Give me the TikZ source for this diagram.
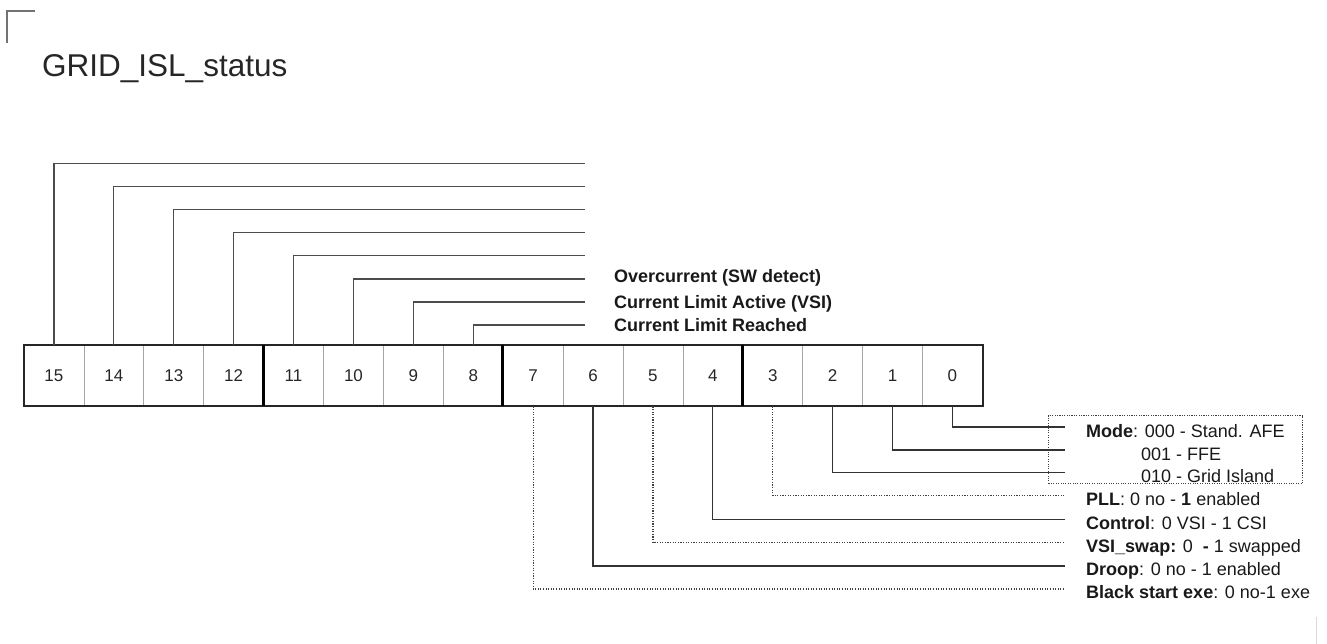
\documentclass[tikz,border=0pt]{standalone}
\usepackage{fontspec}
\setmainfont{Liberation Sans}
\begin{document}
\begin{tikzpicture}[x=1pt,y=-1pt,
  cell/.style={draw=black!35, line width=0.8pt, minimum width=59.9pt, minimum height=61pt, inner sep=0pt, font=\fontsize{17}{20}\selectfont, text=black!85},
  topline/.style={draw=black!70, line width=1.1pt},
  solidline/.style={draw=black!80, line width=1.2pt},
  dotline/.style={draw=black!75, line width=1.1pt, dash pattern=on 1.1pt off 1.5pt},
  lbl/.style={anchor=base west, inner sep=0pt, font=\fontsize{18}{20}\selectfont, text=black!90},
  lblb/.style={lbl, font=\fontsize{18}{20}\selectfont\bfseries},
]
\useasboundingbox (0,0) rectangle (1327,644);

% corner mark
\draw[black!55, line width=1.3pt] (7,43) -- (7,11) -- (35,11);

% title
\node[anchor=base west, inner sep=0pt, font=\fontsize{31.5}{36}\selectfont, text=black!85] (title) at (42,77) {GRID\_ISL\_status};

% register cells
\foreach \i in {0,...,15}
  \node[cell] (c\i) at ({24+(15-\i+0.5)*59.9}, 375.5) {\i};
\draw[line width=2pt, black!85] (c15.north west) rectangle (c0.south east);
\foreach \i in {11,7,3}
  \draw[line width=3pt, black] (c\i.north west) -- (c\i.south west);

% upper connectors
\foreach \i/\y in {15/163.3,14/186.4,13/209.5,12/232.6,11/255.8,10/279,9/302,8/325}{
  \coordinate (e\i) at (585,\y);
  \draw[topline] (c\i.north) |- (e\i);
}
\node[lblb] (l10) at (614,282) {Overcurrent (SW detect)};
\node[lblb] (l9) at (614,308) {Current Limit Active (VSI)};
\node[lblb] (l8) at (614,331) {Current Limit Reached};

% mode box
\node[draw=black!75, line width=1.1pt, dash pattern=on 1.1pt off 1.3pt, minimum width=254pt, minimum height=68pt, inner sep=0pt, anchor=north west] (modebox) at (1048,415) {};

% lower connectors
\foreach \i/\y in {0/427,1/450,2/472.7,4/519.5,6/566}{
  \coordinate (f\i) at (1065,\y);
  \draw[solidline] (c\i.south) |- (f\i);
}
\foreach \i/\y in {3/495.5,5/542.7,7/589}{
  \coordinate (f\i) at (1065,\y);
  \draw[dotline] (c\i.south) |- (f\i);
}

% lower labels
\node[lbl] (m0) at (1086,437) {\textbf{Mode}: 000 - Stand. AFE};
\node[lbl] (m1) at (1141,460) {001 - FFE};
\node[lbl] (m2) at (1141,482.5) {010 - Grid Island};
\node[lbl] (m3) at (1086,505.5) {\textbf{PLL}: 0 no - \textbf{1} enabled};
\node[lbl] (m4) at (1086,529) {\textbf{Control}: 0 VSI - 1 CSI};
\node[lbl] (m5) at (1086,552) {\textbf{VSI\_swap:} 0 \ \textbf{-} 1 swapped};
\node[lbl] (m6) at (1086,575.5) {\textbf{Droop}: 0 no - 1 enabled};
\node[lbl] (m7) at (1086,598) {\textbf{Black start exe}: 0 no-1 exe};

% faint mark bottom right
\draw[black!15, line width=1pt] (1316,617) -- (1316,644);
\end{tikzpicture}
\end{document}
